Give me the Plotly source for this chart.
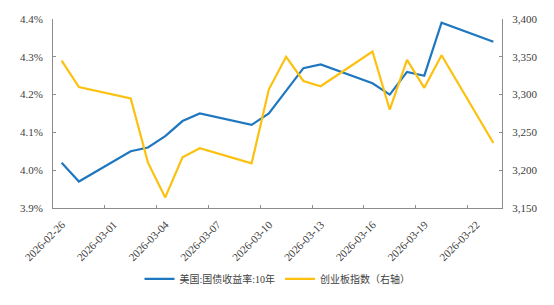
import pandas as pd
import plotly.graph_objects as go

dates = ["2026-02-26", "2026-02-27", "2026-03-02", "2026-03-03", "2026-03-04", "2026-03-05",
         "2026-03-06", "2026-03-09", "2026-03-10", "2026-03-11", "2026-03-12", "2026-03-13",
         "2026-03-16", "2026-03-17", "2026-03-18", "2026-03-19", "2026-03-20", "2026-03-23"]
us10y = [4.02, 3.97, 4.05, 4.06, 4.09, 4.13, 4.15, 4.12, 4.15, 4.21, 4.27, 4.28,
         4.23, 4.20, 4.26, 4.25, 4.39, 4.34]
chinext = [3345, 3310, 3295, 3210, 3164, 3217, 3229, 3209, 3307, 3350, 3318, 3311,
           3357, 3280, 3346, 3309, 3352, 3236]
tick_dates = ["2026-02-26", "2026-03-01", "2026-03-04", "2026-03-07", "2026-03-10",
              "2026-03-13", "2026-03-16", "2026-03-19", "2026-03-22"]
left_ticks = [3.9, 4.0, 4.1, 4.2, 4.3, 4.4]
right_ticks = [3150, 3200, 3250, 3300, 3350, 3400]

name_us = "美国:国债收益率:10年"
name_cy = "创业板指数（右轴）"

# each daily point sits in the middle of its day slot
x = pd.to_datetime(dates) + pd.Timedelta(hours=12)

fig = go.Figure()
fig.add_trace(go.Scatter(x=x, y=us10y, name=name_us, mode="lines",
                         line=dict(color="#1f77c0", width=2.2)))
fig.add_trace(go.Scatter(x=x, y=chinext, name=name_cy, mode="lines", yaxis="y2",
                         line=dict(color="#fcc10f", width=2.2)))

tick_font = dict(family="Liberation Serif", size=11, color="#404040")
axis_common = dict(showgrid=False, zeroline=False, showline=True, linecolor="#8c8c8c",
                   linewidth=1, ticks="inside", ticklen=3, tickcolor="#8c8c8c",
                   tickfont=tick_font)

fig.update_layout(
    width=554, height=305,
    margin=dict(l=53, r=52, t=19, b=95),
    paper_bgcolor="white", plot_bgcolor="white",
    showlegend=True,
    legend=dict(orientation="h", x=0.5, xanchor="center", y=-0.375, yanchor="middle",
                font=dict(family="Liberation Serif, Noto Sans CJK SC", size=10, color="#404040"),
                itemwidth=30, tracegroupgap=0, traceorder="normal"),
    xaxis=dict(type="date", range=["2026-02-26", "2026-03-24"],
               tickvals=pd.to_datetime(tick_dates), ticktext=tick_dates,
               tickangle=-45, ticklabelshift=9, ticklabelstandoff=5, **axis_common),
    yaxis=dict(range=[3.9, 4.4], tickvals=left_ticks,
               ticktext=[f"{v:.1f}%" for v in left_ticks], ticklabelstandoff=7,
               **axis_common),
    yaxis2=dict(range=[3150, 3400], tickvals=right_ticks,
                ticktext=[f"{v:,}" for v in right_ticks], overlaying="y", side="right",
                ticklabelstandoff=7, **axis_common),
)

fig.write_html("out.html")
